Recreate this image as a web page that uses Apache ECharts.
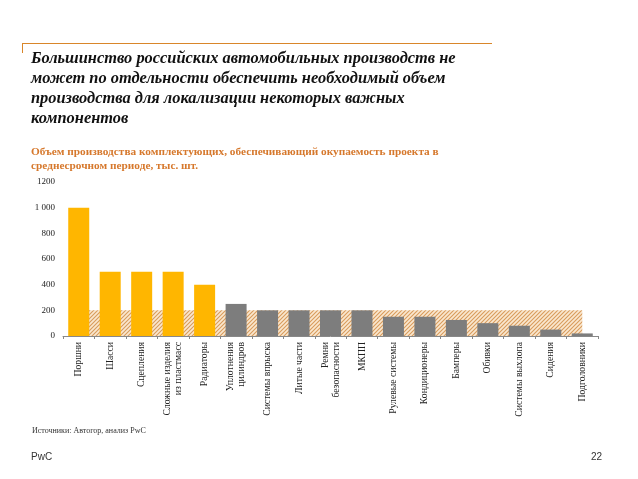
<!DOCTYPE html>
<html>
<head>
<meta charset="utf-8">
<script src="https://cdn.jsdelivr.net/npm/echarts@6/dist/echarts.min.js"></script>
<style>
  html, body { margin: 0; padding: 0; background: #fff; }
  #chart { width: 638px; height: 479px; }
</style>
</head>
<body>
<div id="chart"></div>
<script>
const categories = [
  'Поршни', 'Шасси', 'Сцепления', 'Сложные изделия\nиз пластмасс', 'Радиаторы',
  'Уплотнения\nцилиндров', 'Системы впрыска', 'Литые части', 'Ремни\nбезопасности', 'МКПП',
  'Рулевые системы', 'Кондиционеры', 'Бамперы', 'Обивки', 'Системы выхлопа',
  'Сидения', 'Подголовники'
]
const volumes = [1000, 500, 500, 500, 400, 250, 200, 200, 200, 200, 150, 150, 125, 100, 80, 50, 20]
// typical volume of a single plant (hatched band)
const plantCapacity = [200, 200, 200, 200, 200, 200, 200, 200, 200, 200, 200, 200, 200, 200, 200, 200, 200]
const highlighted = [true, true, true, true, true, false, false, false, false, false, false, false, false, false, false, false, false]
const yTicks = [0, 200, 400, 600, 800, 1000, 1200]
const yTickLabels = ['0', '200', '400', '600', '800', '1 000', '1200']

const titleLines = [
  'Большинство российских автомобильных производств не',
  'может по отдельности обеспечить необходимый объем',
  'производства для локализации некоторых важных',
  'компонентов'
]
const subtitleLines = [
  'Объем производства комплектующих, обеспечивающий окупаемость проекта в',
  'среднесрочном периоде, тыс. шт.'
]

// hatch pattern
function makeHatch() {
  const c = document.createElement('canvas')
  c.width = 4
  c.height = 4
  const ctx = c.getContext('2d')
  ctx.fillStyle = '#fae7cf'
  ctx.fillRect(0, 0, 4, 4)
  ctx.strokeStyle = '#d89b5c'
  ctx.lineWidth = 1.1
  ctx.beginPath()
  ctx.moveTo(0, 4); ctx.lineTo(4, 0)
  ctx.moveTo(-2, 2); ctx.lineTo(2, -2)
  ctx.moveTo(2, 6); ctx.lineTo(6, 2)
  ctx.stroke()
  return c
}

const chart = echarts.init(document.getElementById('chart'))

const serif = '"Liberation Serif", "DejaVu Serif", serif'
const graphics = [
  { type: 'line', shape: { x1: 22, y1: 43.5, x2: 492, y2: 43.5 }, style: { stroke: '#d9862a', lineWidth: 1 } },
  { type: 'line', shape: { x1: 22.5, y1: 43, x2: 22.5, y2: 53 }, style: { stroke: '#d9862a', lineWidth: 1 } },
  {
    type: 'text', left: 31, top: 49,
    style: {
      text: titleLines.join('\n'),
      font: 'italic bold 16.4px ' + serif,
      lineHeight: 20,
      fill: '#111'
    }
  },
  {
    type: 'text', left: 31, top: 145,
    style: {
      text: subtitleLines.join('\n'),
      font: 'bold 11.3px ' + serif,
      lineHeight: 14,
      fill: '#d6782c'
    }
  },
  {
    type: 'text', left: 32, top: 427,
    style: { text: 'Источники: Автогор, анализ PwC', font: '8px ' + serif, fill: '#333' }
  },
  {
    type: 'text', left: 31, top: 452,
    style: { text: 'PwC', font: '10px "Liberation Sans", Arial, sans-serif', fill: '#333' }
  },
  {
    type: 'text', left: 591, top: 452,
    style: { text: '22', font: '10px "Liberation Sans", Arial, sans-serif', fill: '#333' }
  }
]

const option = {
  animation: false,
  grid: { left: 63, right: 40, top: 182, bottom: 143, containLabel: false },
  graphic: graphics,
  xAxis: {
    type: 'category',
    data: categories,
    axisLine: { lineStyle: { color: '#888', width: 1 } },
    axisTick: { show: true, length: 3, lineStyle: { color: '#888' } },
    axisLabel: {
      rotate: 90,
      interval: 0,
      margin: 6,
      fontFamily: serif,
      fontSize: 9.7,
      lineHeight: 11,
      color: '#222'
    }
  },
  yAxis: {
    type: 'value',
    min: 0,
    max: 1200,
    interval: 200,
    axisLine: { show: false },
    axisTick: { show: false },
    splitLine: { show: false },
    axisLabel: {
      fontFamily: serif,
      fontSize: 9,
      color: '#222',
      margin: 8,
      formatter: v => {
        const i = yTicks.indexOf(v)
        return i >= 0 ? yTickLabels[i] : ''
      }
    }
  },
  series: [
    {
      type: 'line',
      data: plantCapacity,
      symbol: 'none',
      lineStyle: { width: 0 },
      areaStyle: { color: { image: makeHatch(), repeat: 'repeat' }, opacity: 1 },
      z: 1,
      silent: true
    },
    {
      type: 'bar',
      data: volumes.map((v, i) => ({
        value: v,
        itemStyle: { color: highlighted[i] ? '#ffb600' : '#7d7d7d' }
      })),
      barWidth: 21,
      z: 3
    }
  ]
}

chart.setOption(option)
</script>
</body>
</html>
